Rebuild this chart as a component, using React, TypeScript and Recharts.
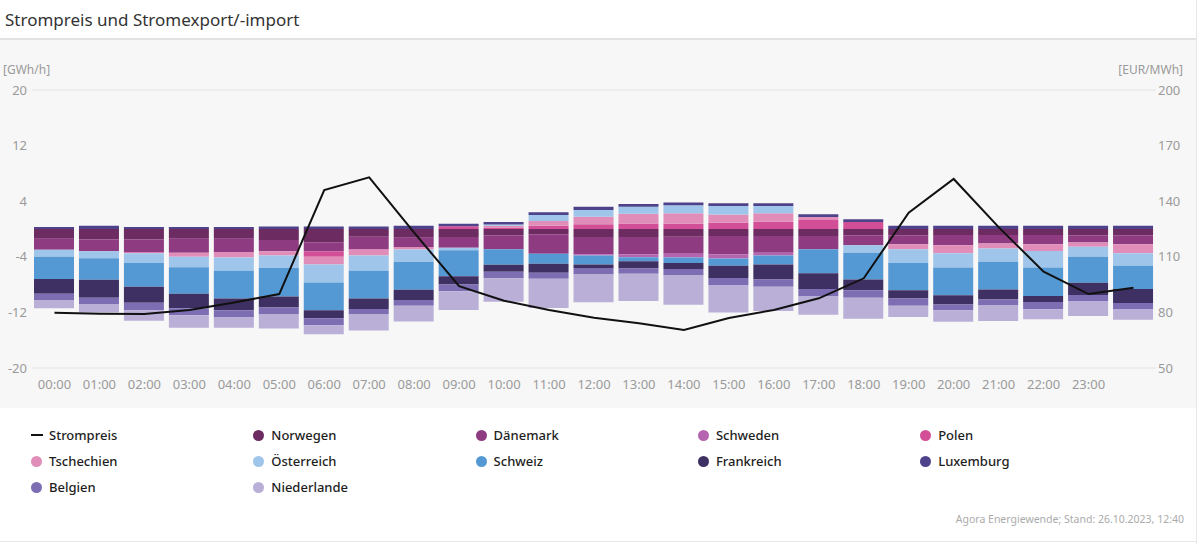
import React from "react";
import {
  ComposedChart,
  Bar,
  Line,
  XAxis,
  YAxis,
  CartesianGrid,
} from "recharts";

// hours (the 25th point has no visible label)
const hours = [
  "00:00", "01:00", "02:00", "03:00", "04:00", "05:00", "06:00", "07:00",
  "08:00", "09:00", "10:00", "11:00", "12:00", "13:00", "14:00", "15:00",
  "16:00", "17:00", "18:00", "19:00", "20:00", "21:00", "22:00", "23:00", "24:00",
];

// GWh/h per country
const norwegen = [-1.4, -1.5, -1.5, -1.4, -1.4, -1.6, -1.9, -1.1, -1.25, -1.15, -0.9, -0.75, -1.15, -1.15, -1.1, -1.0, -1.0, -1.0, -0.9, -0.9, -0.85, -0.85, -0.85, -0.9, -0.9];
const daenemark = [-1.6, -1.7, -1.8, -2.0, -1.9, -1.6, -1.3, -1.8, -1.35, -1.55, -2.0, -2.8, -2.5, -2.5, -2.45, -2.65, -2.4, -1.9, -1.45, -1.3, -1.5, -1.25, -1.35, -1.05, -1.3];
const schweden = [0, 0, 0, 0, 0, 0, 0, 0, 0, 0, 0, 0, -0.15, -0.4, -0.55, -0.6, -0.4, 0, 0, 0, 0, 0, 0, 0, 0];
const polen = [0, 0, -0.1, 0, 0, 0, -0.8, -0.1, 0, 0.4, 0.2, 0.45, 0.7, 0.8, 0.75, 0.9, 1.05, 1.3, 1.0, 0, 0, 0, 0, 0, 0];
const tschechien = [0, 0, -0.1, -0.6, -0.8, -0.6, -1.1, -0.8, -0.35, 0, 0.25, 0.7, 1.05, 1.4, 1.5, 1.2, 1.2, 0.43, 0, -0.7, -1.15, -0.7, -0.95, -0.6, -1.3];
const oesterreich = [-1.0, -1.0, -1.4, -1.5, -1.9, -1.8, -2.6, -2.2, -1.8, -0.35, 0.2, 0.85, 1.0, 1.0, 1.15, 1.2, 1.05, 0, -1.05, -2.0, -2.05, -1.9, -2.4, -1.45, -1.8];
const schweiz = [-3.2, -3.1, -3.4, -3.8, -4.0, -4.1, -4.0, -4.0, -4.0, -3.75, -2.25, -1.45, -1.3, -0.6, -0.8, -1.05, -1.3, -3.45, -3.85, -3.9, -4.0, -4.0, -4.1, -3.75, -3.35];
const frankreich = [-2.1, -2.6, -2.3, -2.1, -1.7, -1.6, -1.15, -1.5, -1.45, -1.2, -1.0, -1.3, -0.5, -1.05, -0.85, -1.75, -2.15, -2.3, -1.55, -1.2, -1.3, -1.45, -0.85, -1.75, -2.0];
const luxemburg = [0.3, 0.45, 0.3, 0.3, 0.3, 0.35, 0.35, 0.35, 0.45, 0.35, 0.35, 0.4, 0.45, 0.4, 0.4, 0.4, 0.4, 0.38, 0.4, 0.45, 0.45, 0.45, 0.45, 0.45, 0.45];
const belgien = [-1.0, -0.9, -1.1, -1.0, -1.05, -1.0, -1.0, -0.8, -0.85, -0.95, -0.95, -0.85, -0.95, -0.75, -0.95, -1.0, -1.05, -1.05, -1.1, -1.05, -0.85, -0.85, -1.05, -0.85, -0.85];
const niederlande = [-1.1, -1.2, -1.5, -1.8, -1.45, -2.0, -1.3, -2.3, -2.25, -2.7, -3.35, -4.2, -4.0, -3.9, -4.2, -3.95, -3.5, -2.65, -3.0, -1.6, -1.65, -2.25, -1.45, -2.15, -1.55];

// EUR/MWh
const strompreis = [79.8, 79.3, 79.1, 81.3, 85.4, 89.9, 146.0, 152.9, 123, 94.2, 86.3, 81.3, 77.1, 74.1, 70.5, 77.0, 81.3, 87.6, 98.4, 133.8, 152.0, 126, 102, 89.9, 93.3];

const leftTicks = [-20, -12, -4, 4, 12, 20];
const rightTicks = [50, 80, 110, 140, 170, 200];

const countries = [
  { key: "Norwegen", values: norwegen, color: "#6c2b61" },
  { key: "Dänemark", values: daenemark, color: "#8e3b82" },
  { key: "Schweden", values: schweden, color: "#b565b0" },
  { key: "Polen", values: polen, color: "#d24f98" },
  { key: "Tschechien", values: tschechien, color: "#e08db9" },
  { key: "Österreich", values: oesterreich, color: "#9fc5ea" },
  { key: "Schweiz", values: schweiz, color: "#5599d4" },
  { key: "Frankreich", values: frankreich, color: "#3e3063" },
  { key: "Luxemburg", values: luxemburg, color: "#4e428a" },
  { key: "Belgien", values: belgien, color: "#7d6db3" },
  { key: "Niederlande", values: niederlande, color: "#b9afd7" },
];

const data = hours.map((hour, i) => {
  const row: Record<string, string | number> = { hour, Strompreis: strompreis[i] };
  countries.forEach((c) => {
    row[c.key] = c.values[i];
  });
  return row;
});

const legendItems = [{ key: "Strompreis", color: "#111", line: true }, ...countries.map((c) => ({ ...c, line: false }))];

const font = "'Noto Sans', 'Open Sans', sans-serif";

const XTick = (props: any) => {
  const { x, y, payload, index } = props;
  if (index >= 24) return <g />;
  return (
    <text x={x} y={y} dy="0.71em" textAnchor="middle" fill="#9a9a9a" fontSize={13} fontFamily={font}>
      {payload.value}
    </text>
  );
};

export default function App() {
  return (
    <div style={{ position: "absolute", left: 0, top: 0, width: 1200, height: 544, background: "#fff", fontFamily: font, overflow: "hidden" }}>
      <div style={{ position: "absolute", left: 5, top: 8, fontSize: 17, color: "#333" }}>
        Strompreis und Stromexport/-import
      </div>
      <div style={{ position: "absolute", left: 0, top: 38, width: 1196, height: 2, background: "#e2e2e2" }} />
      <div style={{ position: "absolute", left: 0, top: 40, width: 1196, height: 368, background: "#f7f7f7" }} />
      <div style={{ position: "absolute", left: 1196, top: 0, width: 1, height: 544, background: "#e6e6e6" }} />
      <div style={{ position: "absolute", left: 0, top: 541, width: 1196, height: 1, background: "#e6e6e6" }} />

      <div style={{ position: "absolute", left: 3, top: 61, fontSize: 12, color: "#9a9a9a" }}>[GWh/h]</div>
      <div style={{ position: "absolute", right: 17, top: 61, fontSize: 12, color: "#9a9a9a" }}>[EUR/MWh]</div>

      <div style={{ position: "absolute", left: 0, top: 0 }}>
        <ComposedChart
          width={1200}
          height={408}
          data={data}
          stackOffset="sign"
          barCategoryGap={5}
          margin={{ top: 90, right: 0, bottom: 10, left: 0 }}
        >
          <CartesianGrid vertical={false} stroke="#e4e4e4" />
          <XAxis
            dataKey="hour"
            axisLine={false}
            tickLine={false}
            tickSize={0}
            tickMargin={12}
            height={30}
            interval={0}
            tick={<XTick />}
          />
          <YAxis
            yAxisId="left"
            orientation="left"
            width={32}
            domain={[-20, 20]}
            ticks={leftTicks}
            axisLine={false}
            tickLine={false}
            tickSize={0}
            tickMargin={5}
            tick={{ fill: "#9a9a9a", fontSize: 13, fontFamily: font }}
          />
          <YAxis
            yAxisId="right"
            orientation="right"
            width={44}
            domain={[50, 200]}
            ticks={rightTicks}
            axisLine={false}
            tickLine={false}
            tickSize={0}
            tickMargin={0}
            tick={{ fill: "#9a9a9a", fontSize: 13, fontFamily: font, dx: 2 }}
          />
          {countries.map((c) => (
            <Bar
              key={c.key}
              yAxisId="left"
              dataKey={c.key}
              stackId="a"
              fill={c.color}
              barSize={40}
              isAnimationActive={false}
            />
          ))}
          <Line
            yAxisId="right"
            type="linear"
            dataKey="Strompreis"
            stroke="#111"
            strokeWidth={2}
            dot={false}
            isAnimationActive={false}
          />
        </ComposedChart>
      </div>

      {legendItems.map((item, i) => {
        const col = i % 5;
        const row = Math.floor(i / 5);
        return (
          <div
            key={item.key}
            style={{
              position: "absolute",
              left: 31 + col * 222.3,
              top: 426 + row * 26,
              height: 18,
              display: "flex",
              alignItems: "center",
              fontSize: 13,
              fontWeight: 500,
              color: "#1e1e1e",
            }}
          >
            {item.line ? (
              <span style={{ display: "inline-block", width: 12, height: 2.5, background: item.color, marginRight: 6 }} />
            ) : (
              <span style={{ display: "inline-block", width: 11, height: 11, borderRadius: "50%", background: item.color, marginRight: 7 }} />
            )}
            {item.key}
          </div>
        );
      })}

      <div style={{ position: "absolute", right: 16, top: 512, fontSize: 10.5, color: "#ababab" }}>
        Agora Energiewende; Stand: 26.10.2023, 12:40
      </div>
    </div>
  );
}
